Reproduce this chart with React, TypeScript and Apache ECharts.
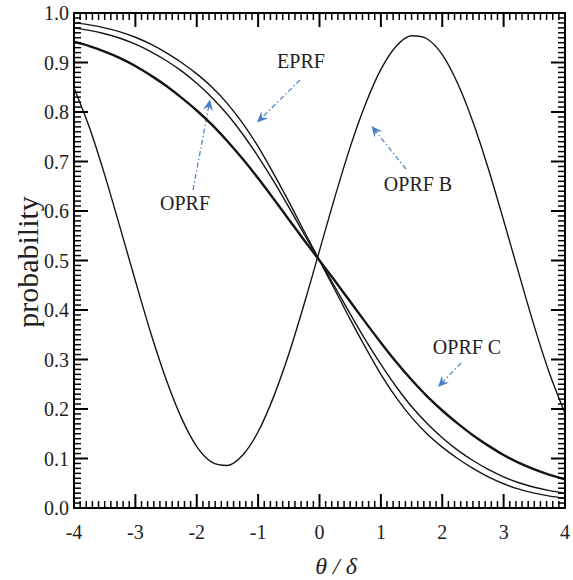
import React, { useEffect, useRef } from "react";
import * as echarts from "echarts";

const theta = [-4, -3.75, -3.5, -3.25, -3, -2.75, -2.5, -2.25, -2, -1.75, -1.5, -1.25, -1, -0.75, -0.5, -0.25, 0, 0.25, 0.5, 0.75, 1, 1.25, 1.5, 1.75, 2, 2.25, 2.5, 2.75, 3, 3.25, 3.5, 3.75, 4];
const oprf = [0.942, 0.933, 0.922, 0.909, 0.893, 0.874, 0.853, 0.829, 0.803, 0.774, 0.741, 0.705, 0.666, 0.625, 0.583, 0.541, 0.5, 0.459, 0.417, 0.375, 0.334, 0.295, 0.259, 0.226, 0.197, 0.171, 0.147, 0.126, 0.107, 0.091, 0.078, 0.067, 0.058];
const curveMid = [0.970, 0.965, 0.958, 0.949, 0.937, 0.922, 0.904, 0.883, 0.858, 0.829, 0.795, 0.755, 0.710, 0.661, 0.608, 0.553, 0.5, 0.447, 0.392, 0.339, 0.290, 0.245, 0.205, 0.171, 0.142, 0.117, 0.096, 0.078, 0.063, 0.051, 0.042, 0.035, 0.030];
const eprf = [0.980, 0.976, 0.970, 0.962, 0.951, 0.937, 0.920, 0.900, 0.877, 0.850, 0.817, 0.777, 0.730, 0.676, 0.619, 0.559, 0.5, 0.441, 0.381, 0.324, 0.270, 0.223, 0.183, 0.150, 0.123, 0.100, 0.080, 0.063, 0.049, 0.038, 0.030, 0.024, 0.020];
const oprfB = [0.849, 0.769, 0.673, 0.567, 0.459, 0.354, 0.260, 0.182, 0.124, 0.092, 0.086, 0.107, 0.154, 0.224, 0.311, 0.412, 0.52, 0.628, 0.729, 0.816, 0.886, 0.933, 0.954, 0.948, 0.916, 0.858, 0.780, 0.686, 0.581, 0.473, 0.367, 0.271, 0.191];

const xTicks = [-4, -3, -2, -1, 0, 1, 2, 3, 4];
const yTicks = [0, 0.1, 0.2, 0.3, 0.4, 0.5, 0.6, 0.7, 0.8, 0.9, 1.0];
const minorSplits = 10;

const labels = [
  { text: "EPRF", x: 301, y: 61 },
  { text: "OPRF", x: 185, y: 203 },
  { text: "OPRF B", x: 418, y: 184 },
  { text: "OPRF C", x: 467, y: 347 },
];
const arrows = [
  { x1: 300, y1: 80, x2: 257, y2: 122.5 },
  { x1: 193, y1: 190, x2: 210, y2: 99.5 },
  { x1: 406, y1: 169, x2: 371.5, y2: 126 },
  { x1: 461, y1: 363, x2: 438, y2: 387 },
];

const FONT = "Liberation Serif";
const AXIS_INK = "#000";
const CURVE_INK = "#151515";
const BLUE = "#4a7ec4";
const MAJOR_LEN = 14;
const MINOR_LEN = 7;

function arrowGraphics() {
  const out: any[] = [];
  arrows.forEach((a) => {
    const dx = a.x2 - a.x1;
    const dy = a.y2 - a.y1;
    const len = Math.sqrt(dx * dx + dy * dy);
    const ux = dx / len;
    const uy = dy / len;
    const px = -uy;
    const py = ux;
    const L = 11;
    const HW = 5;
    const notch = 7;
    const bx = a.x2 - ux * L;
    const by = a.y2 - uy * L;
    const nx = a.x2 - ux * notch;
    const ny = a.y2 - uy * notch;
    out.push({
      type: "line",
      shape: { x1: a.x1, y1: a.y1, x2: nx, y2: ny },
      style: { stroke: BLUE, lineWidth: 1.2, lineDash: [5, 2.5, 1.5, 2.5] },
      silent: true,
    });
    out.push({
      type: "polygon",
      shape: {
        points: [
          [a.x2, a.y2],
          [bx + px * HW, by + py * HW],
          [nx, ny],
          [bx - px * HW, by - py * HW],
        ],
      },
      style: { fill: BLUE },
      silent: true,
    });
  });
  return out;
}

function axis(position: string, min: number, max: number, interval: number, showLabel: boolean, fmt: (v: number) => string, margin: number) {
  return {
    type: "value",
    position,
    min,
    max,
    interval,
    axisLine: { show: true, onZero: false, lineStyle: { color: AXIS_INK, width: 2 } },
    axisTick: { show: false },
    minorTick: { show: false },
    splitLine: { show: false },
    axisLabel: {
      show: showLabel,
      color: "#222",
      fontFamily: FONT,
      fontSize: 20,
      margin,
      formatter: fmt,
    },
  };
}

function tickData(ticks: number[]) {
  const out: number[][] = [];
  ticks.forEach((t) => out.push([t, 1]));
  for (let i = 0; i < ticks.length - 1; i++) {
    const step = (ticks[i + 1] - ticks[i]) / minorSplits;
    for (let j = 1; j < minorSplits; j++) out.push([ticks[i] + step * j, 0]);
  }
  return out;
}

export default function App() {
  const ref = useRef<HTMLDivElement>(null);
  useEffect(() => {
    if (!ref.current) return;
    const chart = echarts.init(ref.current, undefined, { renderer: "svg" });
    const xMin = xTicks[0];
    const xMax = xTicks[xTicks.length - 1];
    const yMin = yTicks[0];
    const yMax = yTicks[yTicks.length - 1];
    const fx = (v: number) => String(v);
    const fy = (v: number) => v.toFixed(1);
    const lineSeries = (name: string, ys: number[], width: number) => ({
      type: "line",
      name,
      data: theta.map((t, i) => [t, ys[i]]),
      showSymbol: false,
      smooth: 0.3,
      lineStyle: { color: CURVE_INK, width },
      itemStyle: { color: CURVE_INK },
      clip: true,
    });

    const xTickSeries = {
      type: "custom",
      name: "xTicks",
      silent: true,
      clip: false,
      z: 10,
      data: tickData(xTicks),
      renderItem: (params: any, api: any) => {
        const v = api.value(0);
        const major = api.value(1) === 1;
        const len = major ? MAJOR_LEN : MINOR_LEN;
        const w = major ? 2 : 1.5;
        const pb = api.coord([v, yMin]);
        const pt = api.coord([v, yMax]);
        return {
          type: "group",
          children: [
            { type: "rect", shape: { x: pb[0] - w / 2, y: pb[1] - len, width: w, height: len }, style: { fill: AXIS_INK } },
            { type: "rect", shape: { x: pt[0] - w / 2, y: pt[1], width: w, height: len }, style: { fill: AXIS_INK } },
          ],
        };
      },
    };
    const yTickSeries = {
      type: "custom",
      name: "yTicks",
      silent: true,
      clip: false,
      z: 10,
      data: tickData(yTicks).map((d) => [xMin, d[0], d[1]]),
      renderItem: (params: any, api: any) => {
        const v = api.value(1);
        const major = api.value(2) === 1;
        const len = major ? MAJOR_LEN : MINOR_LEN;
        const w = major ? 2 : 1.5;
        const pl = api.coord([xMin, v]);
        const pr = api.coord([xMax, v]);
        return {
          type: "group",
          children: [
            { type: "rect", shape: { x: pl[0], y: pl[1] - w / 2, width: len, height: w }, style: { fill: AXIS_INK } },
            { type: "rect", shape: { x: pr[0] - len, y: pr[1] - w / 2, width: len, height: w }, style: { fill: AXIS_INK } },
          ],
        };
      },
    };

    chart.setOption({
      animation: false,
      grid: { left: 74, right: 4, top: 13, bottom: 72 },
      xAxis: [
        axis("bottom", xMin, xMax, 1, true, fx, 14),
        axis("top", xMin, xMax, 1, false, fx, 10),
      ],
      yAxis: [
        axis("left", yMin, yMax, 0.1, true, fy, 5),
        axis("right", yMin, yMax, 0.1, false, fy, 5),
      ],
      series: [
        lineSeries("OPRF B", oprfB, 1.4),
        lineSeries("EPRF", eprf, 1.4),
        lineSeries("OPRF C", curveMid, 1.4),
        lineSeries("OPRF", oprf, 2.4),
        xTickSeries,
        yTickSeries,
      ],
      graphic: [
        {
          type: "text",
          x: 27,
          y: 262,
          rotation: Math.PI / 2,
          style: {
            text: "probability",
            fontFamily: FONT,
            fontSize: 30,
            fill: "#222",
            align: "center",
            verticalAlign: "middle",
          },
        },
        {
          type: "text",
          x: 336,
          y: 566,
          style: {
            text: "θ / δ",
            fontFamily: FONT,
            fontStyle: "italic",
            fontSize: 24,
            fill: "#222",
            align: "center",
            verticalAlign: "middle",
          },
        },
        ...labels.map((l) => ({
          type: "text",
          x: l.x,
          y: l.y,
          style: {
            text: l.text,
            fontFamily: FONT,
            fontSize: 20,
            fill: "#222",
            align: "center",
            verticalAlign: "middle",
          },
        })),
        ...arrowGraphics(),
      ],
    } as any);
    return () => chart.dispose();
  }, []);
  return (
    <div
      ref={ref}
      style={{ position: "fixed", left: 0, top: 0, width: 573, height: 580, background: "#fff" }}
    />
  );
}
